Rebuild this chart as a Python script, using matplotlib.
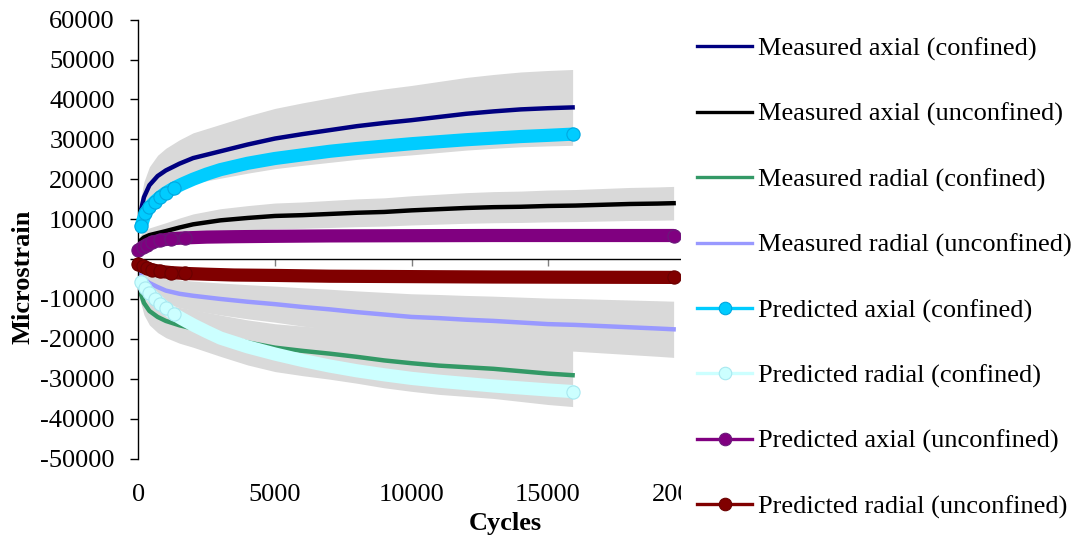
import matplotlib
matplotlib.use('Agg')
import matplotlib.pyplot as plt
from matplotlib.lines import Line2D
from matplotlib.patches import Rectangle
import numpy as np

plt.rcParams['font.family'] = ['Liberation Serif', 'DejaVu Serif']
plt.rcParams['axes.unicode_minus'] = False

# %% data
conf_cycles = [50, 200, 400, 700, 1000, 1500, 2000, 3000, 4000, 5000, 6000, 7000,
               8000, 9000, 10000, 11000, 12000, 13000, 14000, 15000, 15900]
unconf_cycles = [50, 200, 400, 700, 1000, 1500, 2000, 3000, 4000, 5000, 6000, 7000,
                 8000, 9000, 10000, 11000, 12000, 13000, 14000, 15000, 16000, 17000,
                 18000, 19000, 19600]

meas_axial_conf = [11000, 15500, 18500, 20800, 22200, 23900, 25300, 27000, 28700, 30200,
                   31300, 32300, 33300, 34100, 34800, 35600, 36400, 37000, 37500, 37800, 38000]
meas_axial_unconf = [4500, 5400, 6000, 6500, 7000, 7900, 8700, 9700, 10300, 10800, 11000,
                     11300, 11600, 11800, 12200, 12500, 12800, 13000, 13100, 13300, 13400,
                     13600, 13800, 13900, 14000]
meas_radial_conf = [-8000, -11000, -13000, -14500, -15500, -16600, -17400, -19200, -20900,
                    -22200, -23000, -23700, -24500, -25400, -26100, -26700, -27100, -27500,
                    -28100, -28700, -29100]
meas_radial_unconf = [-3800, -5000, -6000, -7000, -7900, -8700, -9200, -10000, -10700, -11300,
                      -12000, -12600, -13300, -13900, -14500, -14800, -15200, -15500, -15900,
                      -16300, -16500, -16800, -17100, -17400, -17600]
# error bars (fraction of value)
meas_err = [0.25, 0.30, 0.27, 0.40]

pred_conf_cycles = [100, 250, 400, 600, 800, 1000, 1300, 1600, 2000, 2500, 3000, 4000, 5000,
                    6000, 7000, 8000, 9000, 10000, 11000, 12000, 13000, 14000, 15000, 15900]
pred_axial_conf = [8300, 11500, 13000, 14400, 15600, 16600, 17800, 18800, 20000, 21300, 22400,
                   24000, 25200, 26100, 27000, 27700, 28300, 28900, 29400, 29900, 30300, 30700,
                   31000, 31300]
pred_radial_conf = [-5700, -7300, -8600, -9900, -11200, -12300, -13800, -15000, -16500, -18200,
                    -19800, -22000, -23800, -25400, -26800, -28000, -29000, -29900, -30600,
                    -31200, -31800, -32300, -32800, -33200]

pred_unconf_cycles = [0, 150, 300, 500, 800, 1200, 1700, 2500, 3500, 5000, 7000, 10000, 13000,
                      16000, 19600]
pred_axial_unconf = [2200, 3000, 3600, 4200, 4700, 5100, 5300, 5500, 5600, 5700, 5800, 5850,
                     5900, 5900, 5900]
pred_radial_unconf = [-1300, -1800, -2300, -2700, -3100, -3400, -3600, -3800, -4000, -4100,
                      -4300, -4400, -4500, -4550, -4600]

labels = ['Measured axial (confined)', 'Measured axial (unconfined)',
          'Measured radial (confined)', 'Measured radial (unconfined)',
          'Predicted axial (confined)', 'Predicted radial (confined)',
          'Predicted axial (unconfined)', 'Predicted radial (unconfined)']
colors = ['#000080', '#000000', '#339966', '#9999ff',
          '#00ccff', '#ccffff', '#800080', '#800000']
edge = ['#000080', '#000000', '#339966', '#9999ff',
        '#00a8e0', '#a8e8f0', '#6a1a7a', '#6a0000']

# %%
fig = plt.figure(figsize=(10.76, 5.37), dpi=100)
ax = fig.add_axes([0.1287, 0.146, 0.5075, 0.8175])

measured = [(conf_cycles, meas_axial_conf), (unconf_cycles, meas_axial_unconf),
            (conf_cycles, meas_radial_conf), (unconf_cycles, meas_radial_unconf)]
predicted = [(pred_conf_cycles, pred_axial_conf), (pred_conf_cycles, pred_radial_conf),
             (pred_unconf_cycles, pred_axial_unconf), (pred_unconf_cycles, pred_radial_unconf)]

for (cyc, vals), frac in zip(measured, meas_err):
    v = np.array(vals, dtype=float)
    ax.fill_between(cyc, v - np.abs(v) * frac, v + np.abs(v) * frac,
                    color='#d9d9d9', lw=0, zorder=1)

for i, (cyc, vals) in enumerate(measured):
    ax.plot(cyc, vals, color=colors[i], lw=3.2, zorder=2, solid_joinstyle='round')

for j, (cyc, vals) in enumerate(predicted):
    i = j + 4
    n = len(cyc)
    ax.plot(cyc, vals, color=colors[i], lw=9.5, solid_capstyle='round', zorder=3,
            marker='o', ms=9.5, mfc=colors[i], mec=edge[i], mew=0.8,
            markevery=list(range(min(7, n))) + [n - 1], clip_on=False)

ax.set_xlim(0, 20000)
ax.set_ylim(-50000, 60000)
ax.set_xticks(range(0, 20001, 5000))
ax.set_yticks(range(-50000, 60001, 10000))

ax.spines['top'].set_visible(False)
ax.spines['right'].set_visible(False)
ax.spines['bottom'].set_position(('data', 0))
ax.spines['left'].set_linewidth(1.0)
ax.spines['bottom'].set_linewidth(1.0)
ax.tick_params(axis='x', direction='out', length=5, width=1, color='#808080',
               labelbottom=False)
ax.tick_params(axis='y', direction='out', length=6, width=1, pad=11, labelsize=19)

sec = ax.secondary_xaxis('bottom')
sec.set_xticks(range(0, 20001, 5000))
sec.spines['bottom'].set_visible(False)
sec.tick_params(length=0, pad=18, labelsize=19)

ax.set_ylabel('Microstrain', fontsize=19, fontweight='bold')
ax.yaxis.set_label_coords(-0.191, 0.414)
ax.set_xlabel('Cycles', fontsize=19, fontweight='bold')
ax.xaxis.set_label_coords(0.671, -0.122)

# cover right side like the excel legend box
fig.add_artist(Rectangle((681 / 1076, 0), 1, 1, transform=fig.transFigure,
                         facecolor='white', edgecolor='none', zorder=3))

handles = []
for i in range(8):
    if i < 4:
        handles.append(Line2D([], [], color=colors[i], lw=2.4))
    else:
        handles.append(Line2D([], [], color=colors[i], lw=2.4, marker='o', ms=9,
                              mec=edge[i], mew=0.8))
leg = fig.legend(handles, labels, loc='upper left', bbox_to_anchor=(697 / 1076, 1 - 37 / 537),
                 frameon=False, fontsize=19, handlelength=2.1, handletextpad=0.2,
                 labelspacing=1.574, borderpad=0, borderaxespad=0)
leg.set_zorder(4)

fig.savefig('out.png', dpi=100)
